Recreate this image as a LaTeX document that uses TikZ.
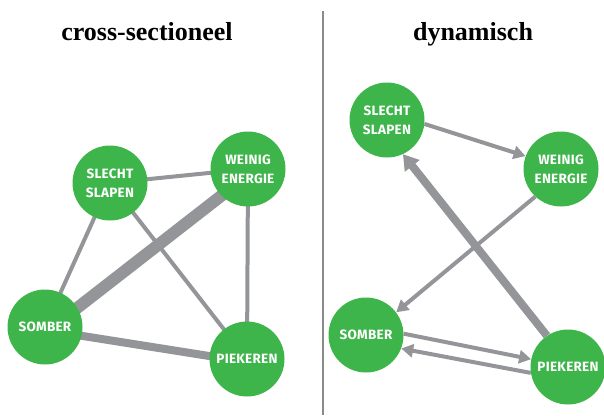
\documentclass[tikz,border=0pt]{standalone}
\usepackage{fontspec}
\newfontfamily\nodefont{Fira Sans}[LetterSpace=2]
\newfontfamily\titlefont{Liberation Serif}
\usetikzlibrary{arrows.meta,backgrounds}
\definecolor{nodegreen}{HTML}{3DB54A}
\definecolor{edgegray}{HTML}{939598}
\definecolor{divgray}{HTML}{8A8A8A}
\tikzset{
  sym/.style={circle,fill=nodegreen,minimum size=75pt,inner sep=0pt,text=white,
    font=\nodefont\bfseries\fontsize{13.5}{19}\selectfont,align=center},
  title/.style={anchor=base,font=\titlefont\bfseries\fontsize{26}{30}\selectfont},
  thinedge/.style={draw=edgegray,line width=4pt},
  midedge/.style={draw=edgegray,line width=8pt},
  fatedge/.style={draw=edgegray,line width=12pt},
  thinarrow/.style={draw=edgegray,line width=4pt,-{Triangle[length=12pt,width=13pt]},fill=edgegray},
  fatarrow/.style={draw=edgegray,line width=8pt,-{Triangle[length=15pt,width=18pt]},fill=edgegray}
}
\begin{document}
\begin{tikzpicture}[x=1pt,y=-1pt]
\useasboundingbox (0,0) rectangle (604,415);
% titles
\node[title] (t1) at (147,40) {cross-sectioneel};
\node[title] (t2) at (473,40) {dynamisch};
% divider
\coordinate (d1) at (323,11);
\coordinate (d2) at (323,415);
\draw[divgray,line width=1.5pt] (d1) -- (d2);
% left nodes
\node[sym] (sl) at (110,183) {SLECHT\\SLAPEN};
\node[sym] (wl) at (248,169) {WEINIG\\ENERGIE};
\node[sym] (ol) at (45,327) {SOMBER};
\node[sym] (pl) at (247,359) {PIEKEREN};
% right nodes
\node[sym] (sr) at (387,120) {SLECHT\\SLAPEN};
\node[sym] (wr) at (561,169) {WEINIG\\ENERGIE};
\node[sym] (or) at (366,335) {SOMBER};
\node[sym] (pr) at (568,367) {PIEKEREN};
\begin{scope}[on background layer]
  % left edges
  \draw[thinedge] (sl.center) -- (wl.center);
  \draw[thinedge] (sl.center) -- (ol.center);
  \draw[thinedge] (sl.center) -- (pl.center);
  \draw[thinedge] (wl.center) -- (pl.center);
  \draw[fatedge] ([yshift=-6pt]ol.center) -- ([yshift=-6pt]wl.center);
  \draw[midedge] ([yshift=-3pt]ol.center) -- ([yshift=-3pt]pl.center);
  % right arrows
  \draw[thinarrow] (sr.-6) -- (wr.160);
  \draw[thinarrow] (wr.227) -- (or.37);
  \draw[fatarrow] (pr.124) -- (sr.-65);
  \draw[thinarrow] (or.2) -- (pr.168);
  \draw[thinarrow] (pr.189) -- (or.-21);
\end{scope}
\end{tikzpicture}
\end{document}
